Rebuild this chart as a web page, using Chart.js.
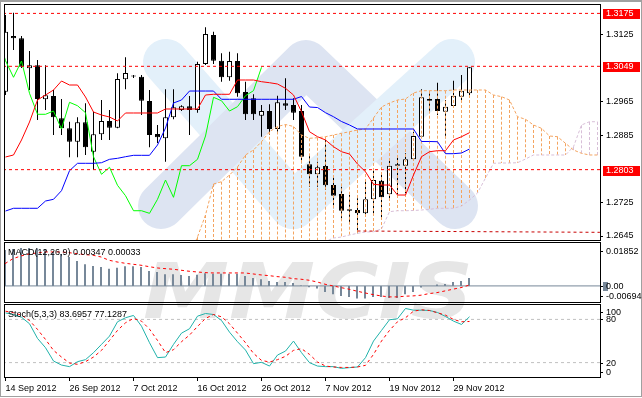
<!DOCTYPE html>
<html>
<head>
<meta charset="utf-8">
<script src="https://cdn.jsdelivr.net/npm/chart.js@4.4.1/dist/chart.umd.min.js"></script>
<style>
html, body { margin: 0; padding: 0; background: #fff; }
#wrap { position: relative; width: 642px; height: 398px; overflow: hidden; }
#wrap canvas { position: absolute; left: 0; }
#bg { top: 0; }
#price { top: 0; }
#macd { top: 241px; }
#stoch { top: 303px; }
</style>
</head>
<body>
<div id="wrap">
	<canvas id="bg" width="642" height="398"></canvas>
	<canvas id="price" width="642" height="241"></canvas>
	<canvas id="macd" width="642" height="62"></canvas>
	<canvas id="stoch" width="642" height="95"></canvas>
</div>
<script>
// ---- data ----
var dateLabels = ['14 Sep 2012', '26 Sep 2012', '7 Oct 2012', '16 Oct 2012', '26 Oct 2012', '7 Nov 2012', '19 Nov 2012', '29 Nov 2012'];
var dateIdx = [0, 8, 16, 24, 32, 40, 48, 56];

var opens = [1.29886, 1.31212, 1.31157, 1.30443, 1.30514, 1.29705, 1.29783, 1.29252, 1.29014, 1.28695,
	1.29157, 1.28457, 1.28871, 1.29188, 1.29029, 1.30181, 1.30252, 1.30243, 1.29664, 1.28879,
	1.28776, 1.29276, 1.29450, 1.29538, 1.29450, 1.30545, 1.31236, 1.30624, 1.30229, 1.30617,
	1.29879, 1.29729, 1.29314, 1.29426, 1.28998, 1.29610, 1.29569, 1.29426, 1.28157, 1.27919,
	1.28117, 1.27664, 1.27450, 1.27086, 1.27069, 1.26990, 1.27324, 1.27767, 1.27443, 1.28157,
	1.28124, 1.28276, 1.28814, 1.29712, 1.29712, 1.29410, 1.29545, 1.29767, 1.29848];
var highs = [1.31712, 1.31767, 1.31212, 1.30855, 1.30640, 1.30514, 1.29926, 1.29712, 1.29171, 1.29276,
	1.29610, 1.29410, 1.29688, 1.29450, 1.30324, 1.30705, 1.30283, 1.30283, 1.29926, 1.29093,
	1.29943, 1.29943, 1.29562, 1.29783, 1.30600, 1.31419, 1.31314, 1.30800, 1.30838, 1.30800,
	1.30124, 1.29824, 1.29569, 1.29586, 1.29790, 1.30205, 1.29729, 1.29569, 1.28402, 1.28219,
	1.28736, 1.27862, 1.27624, 1.27426, 1.27348, 1.27783, 1.28021, 1.27902, 1.28276, 1.28379,
	1.28419, 1.28933, 1.29943, 1.29848, 1.30100, 1.29688, 1.30148, 1.30283, 1.30467];
var lows = [1.29807, 1.30879, 1.30450, 1.29926, 1.29212, 1.29450, 1.28855, 1.28855, 1.28324, 1.28324,
	1.28379, 1.28021, 1.28736, 1.28736, 1.29014, 1.29943, 1.30212, 1.29331, 1.28562, 1.28664,
	1.28219, 1.29229, 1.29426, 1.28855, 1.29386, 1.30521, 1.30545, 1.30124, 1.30148, 1.29767,
	1.29212, 1.29212, 1.28814, 1.28855, 1.28933, 1.29450, 1.29212, 1.28181, 1.27624, 1.27624,
	1.27545, 1.27110, 1.26871, 1.26767, 1.26514, 1.26910, 1.26990, 1.26831, 1.27307, 1.27443,
	1.27467, 1.28236, 1.28800, 1.29410, 1.29331, 1.28776, 1.29529, 1.29688, 1.29807];
var closes = [1.31314, 1.31157, 1.30481, 1.30514, 1.29712, 1.29800, 1.29276, 1.29014, 1.28695, 1.29157,
	1.28562, 1.28871, 1.29188, 1.29029, 1.30188, 1.30331, 1.30245, 1.29671, 1.28855, 1.28800,
	1.29276, 1.29514, 1.29538, 1.29450, 1.30545, 1.31260, 1.30624, 1.30229, 1.30617, 1.29848,
	1.29348, 1.29348, 1.29426, 1.28998, 1.29633, 1.29552, 1.29386, 1.28338, 1.27919, 1.28086,
	1.27657, 1.27410, 1.27052, 1.27052, 1.26990, 1.27324, 1.27783, 1.27371, 1.28124, 1.28124,
	1.28276, 1.28831, 1.29752, 1.29671, 1.29426, 1.29529, 1.29790, 1.29910, 1.30467];

var tenkan = [1.28331, 1.28379, 1.28736, 1.29164, 1.29688, 1.29807, 1.29926, 1.30140, 1.30045, 1.30045,
	1.29760, 1.29402, 1.29331, 1.29283, 1.29188, 1.29379, 1.29379, 1.29379, 1.29379, 1.29379,
	1.29474, 1.29474, 1.29474, 1.29474, 1.29474, 1.29807, 1.29824, 1.29824, 1.29824, 1.30164,
	1.30164, 1.30164, 1.30124, 1.30100, 1.30069, 1.29967, 1.29807, 1.29410, 1.28933, 1.28814,
	1.28736, 1.28576, 1.28457, 1.28402, 1.28164, 1.27981, 1.27681, 1.27664, 1.27664, 1.27426,
	1.27426, 1.27902, 1.28338, 1.28457, 1.28481, 1.28481, 1.28736, 1.28814, 1.28910];
var kijun = [1.27045, 1.27110, 1.27110, 1.27110, 1.27110, 1.27283, 1.27324, 1.27529, 1.28005, 1.28181,
	1.28181, 1.28181, 1.28195, 1.28276, 1.28300, 1.28338, 1.28371, 1.28371, 1.28371, 1.28617,
	1.29021, 1.29617, 1.29688, 1.29902, 1.29902, 1.29902, 1.29902, 1.29705, 1.29705, 1.29705,
	1.29705, 1.29705, 1.29705, 1.29705, 1.29705, 1.29705, 1.29705, 1.29771, 1.29521, 1.29509,
	1.29386, 1.29290, 1.29176, 1.29093, 1.28998, 1.28998, 1.28998, 1.28998, 1.28998, 1.28998,
	1.28998, 1.28998, 1.28700, 1.28700, 1.28695, 1.28410, 1.28410, 1.28426, 1.28521];
var chikouShift = 26;

// senkou spans start at bar 23 and run 16 bars past the last candle
var cloudStart = 23;
var spanA = [1.25998, 1.26426, 1.26950, 1.27688, 1.27743, 1.27902, 1.28093,
	1.28379, 1.28498, 1.28695, 1.28933, 1.29057, 1.29105, 1.29057, 1.28855, 1.28776, 1.28790,
	1.28814, 1.28855, 1.28895, 1.28933, 1.28974, 1.28998, 1.29260, 1.29521, 1.29617, 1.29688,
	1.29712, 1.29855, 1.29910, 1.29910, 1.29910, 1.29910, 1.29926, 1.29926, 1.29926, 1.29926,
	1.29926, 1.29807, 1.29767, 1.29688, 1.29290, 1.29229, 1.29093, 1.29014, 1.28831, 1.28814,
	1.28657, 1.28498, 1.28419, 1.28379, 1.28379];
var spanB = [1.26200, 1.26200, 1.26200, 1.26200, 1.26200, 1.26200, 1.26200,
	1.26200, 1.26200, 1.26200, 1.26200, 1.26200, 1.26200, 1.26200, 1.26200, 1.26200, 1.26250,
	1.26320, 1.26402, 1.26426, 1.26474, 1.26514, 1.26545, 1.26552, 1.26617, 1.27029, 1.27052,
	1.27052, 1.27057, 1.27069, 1.27086, 1.27110, 1.27110, 1.27110, 1.27164, 1.27307, 1.27474,
	1.27831, 1.28181, 1.28188, 1.28188, 1.28195, 1.28283, 1.28379, 1.28379, 1.28379, 1.28379,
	1.28379, 1.28576, 1.29093, 1.29171, 1.29171];

var levels = [1.3175, 1.3049, 1.2803];
var trendLine = [{x: 44, y: 1.26569}, {x: 74.3, y: 1.26538}];
var priceTicks = [1.3125, 1.2965, 1.2885, 1.2725, 1.2645];

var macdHist = [0.01552, 0.01595, 0.01638, 0.01638, 0.01616, 0.01595, 0.01466, 0.01379, 0.01250, 0.01078,
	0.00935, 0.00862, 0.00819, 0.00746, 0.00789, 0.00849, 0.00849, 0.00819, 0.00647, 0.00603,
	0.00504, 0.00504, 0.00474, 0.00431, 0.00487, 0.00547, 0.00530, 0.00530, 0.00530, 0.00530,
	0.00431, 0.00345, 0.00289, 0.00216, 0.00172, 0.00172, 0.00129, 0.00020, -0.00056, -0.00116,
	-0.00259, -0.00358, -0.00431, -0.00474, -0.00547, -0.00547, -0.00474, -0.00474, -0.00517, -0.00517,
	-0.00358, -0.00259, -0.00073, 0.00000, 0.00056, 0.00086, 0.00172, 0.00216, 0.00347];
var macdSignal = [0.00961, 0.01177, 0.01293, 0.01379, 0.01422, 0.01466, 0.01466, 0.01466, 0.01435, 0.01392,
	0.01349, 0.01323, 0.01250, 0.01108, 0.01034, 0.00978, 0.00935, 0.00892, 0.00832, 0.00776,
	0.00746, 0.00720, 0.00677, 0.00634, 0.00603, 0.00573, 0.00560, 0.00560, 0.00560, 0.00560,
	0.00560, 0.00517, 0.00474, 0.00444, 0.00401, 0.00375, 0.00315, 0.00289, 0.00246, 0.00172,
	0.00073, 0.00000, -0.00073, -0.00142, -0.00228, -0.00302, -0.00375, -0.00431, -0.00474, -0.00474,
	-0.00444, -0.00431, -0.00401, -0.00332, -0.00289, -0.00216, -0.00142, -0.00073, 0.00033];
var macdTicks = [0.01852, 0, -0.00694];

var stochMain = [89, 86.8, 83, 74, 53.6, 40.7, 22.2, 16.6, 14.4, 21.3,
	24.1, 33.8, 45.3, 56.8, 76.7, 82.3, 85.5, 70.6, 47.6, 26.9,
	27.7, 45.3, 60.9, 67, 84.5, 88.2, 86.8, 78.5, 62.3, 49,
	37.4, 18.5, 20.4, 15.2, 30.5, 36, 49.9, 33.8, 19.9, 15.2,
	14.4, 14.4, 12, 13, 13.9, 26.9, 49.9, 64.7, 79.5, 80.9,
	95.2, 92.8, 92.8, 92.4, 89.6, 84.1, 77.6, 73, 83.6957];
var stochSignal = [91.4, 89.2, 85.9, 78.5, 66.1, 52.2, 37, 27.7, 19.4, 17.6,
	21.3, 27.7, 37, 50.8, 64.7, 75.3, 81.3, 77.6, 66.5, 50.8,
	33.8, 37.9, 49, 58.2, 70.2, 81.3, 86.8, 83.6, 74, 60.9,
	47.6, 32.8, 23.1, 20.8, 24.1, 28.7, 37, 39.3, 31.4, 20.8,
	15.2, 13.9, 13.3, 13.3, 13.9, 16.2, 31.4, 49.9, 64.7, 76.7,
	82.3, 91.4, 93.3, 92.4, 89.2, 85.9, 79.9, 76.7, 77.1287];
var stochTicks = [100, 80, 20, 0];
var stochLevels = [80, 20];

// ---- look ----
var FONT = "'Liberation Sans', Arial, sans-serif";
var X_MIN = -0.0625, X_MAX = 74.3125;
var PRICE_MIN = 1.26355, PRICE_MAX = 1.3195;
var SANDY = '#f4a460', THISTLE = '#d8bfd8';

Chart.defaults.font.family = FONT;
Chart.defaults.font.size = 9;
Chart.defaults.color = '#000';
Chart.defaults.plugins.legend.display = false;
Chart.defaults.plugins.tooltip.enabled = false;
Chart.defaults.elements.point.radius = 0;
Chart.defaults.elements.line.borderWidth = 1;
Chart.defaults.elements.line.tension = 0;

function pts(arr, start) {
	start = start || 0;
	return arr.map(function(v, i) { return {x: start + i, y: v}; });
}
function hline(v) {
	return [{x: X_MIN - 1, y: v}, {x: X_MAX + 1, y: v}];
}

// shift moves the whole scale by a fraction of a bar so thin bars land on whole pixels
function xAxis(withDates, shift) {
	shift = shift || 0;
	var ax = {
		type: 'linear', min: X_MIN + shift, max: X_MAX + shift, offset: false, display: withDates,
		grid: {drawOnChartArea: false, drawTicks: true, tickLength: 4, color: '#000'},
		border: {display: false},
		ticks: {
			autoSkip: false, maxRotation: 0, align: 'start', padding: 2,
			callback: function(v) { var k = dateIdx.indexOf(v); return k < 0 ? '' : dateLabels[k]; }
		},
		afterBuildTicks: function(s) { s.ticks = dateIdx.map(function(v) { return {value: v}; }); }
	};
	if (withDates) {
		ax.afterFit = function(s) { s.height = 18; s.paddingLeft = 0; s.paddingRight = 0; };
	}
	return ax;
}
function blankY(min, max) {
	return {
		type: 'linear', position: 'right', min: min, max: max,
		ticks: {display: false}, grid: {display: false}, border: {display: false},
		afterFit: function(s) { s.width = 42; }
	};
}

// panel border
var frame = {
	id: 'frame',
	afterDraw: function(chart) {
		var a = chart.chartArea, c = chart.ctx;
		c.save();
		c.strokeStyle = '#000';
		c.lineWidth = 1;
		c.strokeRect(a.left - 0.5, a.top - 0.5, a.right - a.left + 1, a.bottom - a.top + 1);
		c.restore();
	}
};

// red price tags on the axis for the horizontal levels
var levelTags = {
	id: 'levelTags',
	afterDraw: function(chart) {
		var y = chart.scales.y, c = chart.ctx;
		c.save();
		c.font = '9px ' + FONT;
		c.textBaseline = 'middle';
		levels.forEach(function(v) {
			var py = Math.round(y.getPixelForValue(v));
			c.fillStyle = '#ff0000';
			c.fillRect(603, py - 4, 37, 10);
			c.fillStyle = '#fff';
			c.fillText(v.toFixed(4), 606, py + 1);
		});
		c.restore();
	}
};

// indicator name top-left + its value labels on the right
var panelText = {
	id: 'panelText',
	afterDraw: function(chart, args, opts) {
		var a = chart.chartArea, c = chart.ctx, y = chart.scales.y;
		c.save();
		c.font = '9px ' + FONT;
		c.textBaseline = 'middle';
		c.fillStyle = '#000';
		c.fillText(opts.title, 8, a.top + 10);
		c.strokeStyle = '#000';
		opts.items.forEach(function(it) {
			var py = y.getPixelForValue(it.value);
			py = Math.round(Math.min(Math.max(py, a.top + opts.topInset), a.bottom - opts.bottomInset));
			if (it.box) {
				c.fillStyle = it.box;
				c.fillRect(603, py - 4, 5, 9);
				c.fillStyle = '#000';
			}
			c.beginPath();
			c.moveTo(600, py + 0.5);
			c.lineTo(603, py + 0.5);
			c.stroke();
			c.fillText(it.text, 606, py + 1);
		});
		c.restore();
	}
};

// ---- background: watermark and window frame ----
(function() {
	var g = document.getElementById('bg').getContext('2d');
	g.fillStyle = '#fff';
	g.fillRect(0, 0, 642, 398);
	g.lineCap = 'round';
	g.lineJoin = 'round';
	g.lineWidth = 46;
	g.strokeStyle = '#e3f0fa';
	g.beginPath(); g.moveTo(166, 62); g.lineTo(293, 206); g.stroke();
	g.strokeStyle = '#dde4f2';
	g.beginPath(); g.moveTo(161, 206); g.lineTo(306, 63); g.lineTo(455, 206); g.stroke();
	g.strokeStyle = '#e3f0fa';
	g.beginPath(); g.moveTo(293, 206); g.lineTo(452, 62); g.stroke();

	g.fillStyle = '#e6e6e6';
	g.font = "italic bold 76px 'DejaVu Sans'";
	var w = g.measureText('MMCIS').width;
	g.save();
	g.translate(143, 318);
	g.scale(330 / w, 1);
	g.fillText('MMCIS', 0, 0);
	g.restore();

	g.fillStyle = '#a0a0a0';
	g.fillRect(0, 0, 642, 2);
	g.fillRect(0, 396, 642, 1);
	g.fillRect(0, 0, 1, 397);
	g.fillRect(641, 0, 1, 397);
})();

// ---- main price panel ----
var hatch = spanA.map(function(a, k) {
	var i = cloudStart + k;
	return {
		type: 'line', data: [{x: i, y: a}, {x: i, y: spanB[k]}],
		borderColor: a >= spanB[k] ? SANDY : THISTLE, borderDash: [3, 2], order: 7
	};
});

new Chart(document.getElementById('price'), {
	type: 'line',
	data: {
		datasets: [
			{
				type: 'bar', order: 9,
				data: highs.map(function(h, i) { return {x: i, y: [lows[i], h]}; }),
				backgroundColor: '#000', borderWidth: 0, grouped: false,
				barThickness: 1, maxBarThickness: 1, inflateAmount: 0
			},
			{
				type: 'bar', order: 8,
				data: opens.map(function(o, i) { return {x: i, y: [o, closes[i]]}; }),
				backgroundColor: opens.map(function(o, i) { return closes[i] >= o ? '#fff' : '#000'; }),
				borderColor: '#000', borderWidth: 1, borderSkipped: false, grouped: false,
				barThickness: 5, maxBarThickness: 5, minBarLength: 1, inflateAmount: 0
			}
		].concat(hatch).concat([
			{type: 'line', order: 6, data: pts(spanA, cloudStart), borderColor: SANDY, borderDash: [3, 2]},
			{type: 'line', order: 6, data: pts(spanB, cloudStart), borderColor: THISTLE, borderDash: [3, 2]},
			{type: 'line', order: 4, data: pts(tenkan), borderColor: '#ff0000'},
			{type: 'line', order: 4, data: pts(kijun), borderColor: '#0000ff'},
			{type: 'line', order: 4, data: pts(closes, -chikouShift), borderColor: '#00ff00'},
			{type: 'line', order: 2, data: trendLine, borderColor: '#c80000', borderDash: [3, 3]}
		]).concat(levels.map(function(v) {
			return {type: 'line', order: 1, data: hline(v), borderColor: '#ff0000', borderDash: [3, 3]};
		}))
	},
	options: {
		responsive: false, animation: false, devicePixelRatio: 1, events: [],
		layout: {padding: {left: 5, top: 5, right: 0, bottom: 1}},
		scales: {
			x: xAxis(false),
			y: {
				type: 'linear', position: 'right', min: PRICE_MIN, max: PRICE_MAX,
				grid: {drawOnChartArea: false, drawTicks: true, tickLength: 3, color: '#000'},
				border: {display: true, color: '#000'},
				ticks: {padding: 3, callback: function(v) { return Number(v).toFixed(4); }},
				afterBuildTicks: function(s) { s.ticks = priceTicks.map(function(v) { return {value: v}; }); },
				afterFit: function(s) { s.width = 42; s.paddingTop = 0; s.paddingBottom = 0; }
			}
		}
	},
	plugins: [frame, levelTags]
});

// ---- MACD panel ----
new Chart(document.getElementById('macd'), {
	type: 'line',
	data: {
		datasets: [
			{type: 'line', order: 3, data: hline(0), borderColor: '#778899'},
			{
				type: 'bar', order: 2, data: pts(macdHist),
				backgroundColor: '#778899', borderWidth: 0, grouped: false,
				barThickness: 2, maxBarThickness: 2, inflateAmount: 0
			},
			{type: 'line', order: 1, data: pts(macdSignal), borderColor: '#ff0000', borderDash: [3, 3]}
		]
	},
	options: {
		responsive: false, animation: false, devicePixelRatio: 1, events: [],
		layout: {padding: {left: 5, top: 2, right: 0, bottom: 1}},
		scales: {x: xAxis(false, 0.0625), y: blankY(macdTicks[2], macdTicks[0])},
		plugins: {
			panelText: {
				title: 'MACD(12,26,9) ' + macdHist[macdHist.length - 1].toFixed(5) + ' ' + macdSignal[macdSignal.length - 1].toFixed(5),
				topInset: 8, bottomInset: 6,
				items: macdTicks.map(function(v) {
					return {value: v, text: v === 0 ? '0.00' : v.toFixed(5), box: v === 0 ? '#778899' : null};
				})
			}
		}
	},
	plugins: [frame, panelText]
});

// ---- Stochastic panel (carries the date axis) ----
new Chart(document.getElementById('stoch'), {
	type: 'line',
	data: {
		datasets: stochLevels.map(function(v) {
			return {type: 'line', order: 3, data: hline(v), borderColor: '#c0c0c0', borderDash: [3, 3]};
		}).concat([
			{type: 'line', order: 2, data: pts(stochMain), borderColor: '#20b2aa'},
			{type: 'line', order: 1, data: pts(stochSignal), borderColor: '#ff0000', borderDash: [3, 3]}
		])
	},
	options: {
		responsive: false, animation: false, devicePixelRatio: 1, events: [],
		layout: {padding: {left: 5, top: 2, right: 0, bottom: 3}},
		scales: {x: xAxis(true), y: blankY(0, 100)},
		plugins: {
			panelText: {
				title: 'Stoch(5,3,3) ' + stochMain[stochMain.length - 1].toFixed(4) + ' ' + stochSignal[stochSignal.length - 1].toFixed(4),
				topInset: 7, bottomInset: 5,
				items: stochTicks.map(function(v) { return {value: v, text: String(v)}; })
			}
		}
	},
	plugins: [frame, panelText]
});
</script>
</body>
</html>
